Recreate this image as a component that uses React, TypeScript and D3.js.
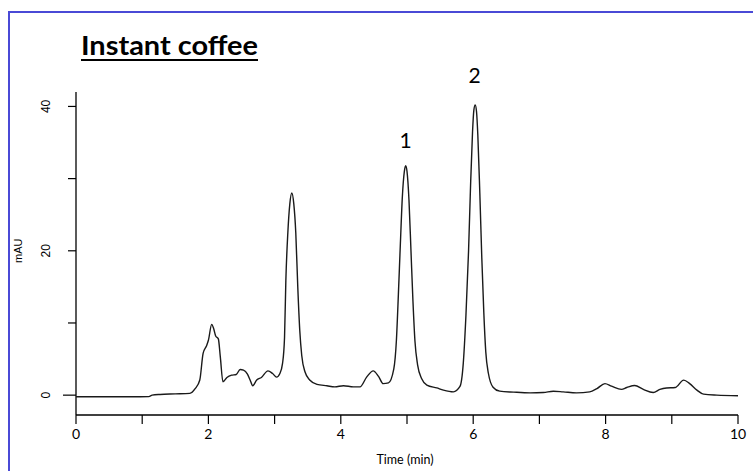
import React from "react";
import * as d3 from "d3";

const times: number[] = [
  0, 0.5, 0.97, 1.1, 1.15, 1.27, 1.5, 1.72, 1.8, 1.87, 1.92, 1.97, 2.0, 2.05, 2.08, 2.11, 2.15, 2.18, 2.22,
  2.28, 2.35, 2.42, 2.48, 2.53, 2.59, 2.63, 2.67, 2.73, 2.8, 2.9, 2.97, 3.03, 3.08, 3.12, 3.15, 3.17,
  3.2, 3.23, 3.26, 3.29, 3.32, 3.35, 3.38, 3.41, 3.46, 3.53, 3.64, 3.79, 3.91, 4.04, 4.19, 4.29, 4.39,
  4.49, 4.57, 4.64, 4.72, 4.8, 4.84, 4.87, 4.9, 4.93, 4.96, 4.98, 5.0, 5.03, 5.06, 5.09, 5.12, 5.16,
  5.22, 5.3, 5.45, 5.55, 5.7, 5.8, 5.85, 5.89, 5.93, 5.96, 5.99, 6.01, 6.03, 6.05, 6.07, 6.1, 6.13,
  6.16, 6.19, 6.23, 6.3, 6.4, 6.61, 6.86, 7.06, 7.21, 7.36, 7.56, 7.76, 7.87, 7.99, 8.09, 8.24, 8.32,
  8.44, 8.57, 8.72, 8.82, 8.92, 9.05, 9.18, 9.27, 9.38, 9.48, 9.68, 10.0,
];
const absorbance: number[] = [
  -0.22, -0.22, -0.22, -0.2, 0.0, 0.1, 0.17, 0.25, 0.9, 2.1, 5.8, 6.8, 7.6, 9.8, 9.2, 8.2, 7.8, 5.3, 1.85,
  2.45, 2.77, 2.86, 3.55, 3.46, 2.9, 2.1, 1.3, 2.1, 2.45, 3.37, 3.0, 2.5, 3.0, 4.4, 8.0, 15.9,
  22.5, 26.5, 28.0, 26.5, 22.5, 15.0, 9.0, 5.5, 3.2, 2.1, 1.5, 1.3, 1.15, 1.3, 1.15, 1.15, 2.5,
  3.37, 2.6, 1.6, 1.7, 3.6, 7.6, 14.0, 21.0, 27.5, 31.0, 31.8, 31.0, 27.0, 20.0, 13.0, 7.5, 4.2,
  2.3, 1.4, 1.0, 0.7, 0.46, 1.2, 4.4, 11.0, 20.0, 29.0, 36.5, 39.5, 40.2, 39.3, 36.0, 28.0, 19.0,
  11.5, 6.0, 3.0, 1.1, 0.55, 0.42, 0.32, 0.37, 0.55, 0.46, 0.32, 0.46, 0.92, 1.6, 1.25, 0.8, 1.06,
  1.34, 0.8, 0.37, 0.8, 1.0, 1.06, 2.08, 1.6, 0.7, 0.14, 0.0, -0.08,
];

const xTicks: number[] = [0, 1, 2, 3, 4, 5, 6, 7, 8, 9, 10];
const xTickLabels: string[] = ["0", "", "2", "", "4", "", "6", "", "8", "", "10"];
const yTicks: number[] = [0, 10, 20, 30, 40];
const yTickLabels: string[] = ["0", "", "20", "", "40"];

const peakLabels: string[] = ["1", "2"];
const peakTimes: number[] = [4.98, 6.02];
const peakLabelValues: number[] = [34.2, 43.3];

const title = "Instant coffee";
const xTitle = "Time (min)";
const yTitle = "mAU";

export default function App() {
  const W = 753;
  const H = 471;
  const x = d3.scaleLinear().domain([0, 10]).range([76, 738]);
  const y = d3.scaleLinear().domain([-2.75, 42]).range([415, 92]);
  const pts: [number, number][] = times.map((t, i) => [t, absorbance[i]]);
  const line = d3
    .line<[number, number]>()
    .x((d) => x(d[0]))
    .y((d) => y(d[1]))
    .curve(d3.curveMonotoneX);

  const calibri = "Lato, 'Open Sans', sans-serif";
  const arial = "'Liberation Sans', Arial, sans-serif";

  return (
    <svg
      width={W}
      height={H}
      style={{ position: "absolute", left: 0, top: 0, background: "#fff" }}
    >
      <rect x={0} y={0} width={W} height={H} fill="#fff" />
      {/* frame */}
      <line x1={9} y1={12} x2={W} y2={12} stroke="#4a4ad6" strokeWidth={2} />
      <line x1={9} y1={11} x2={9} y2={H} stroke="#4a4ad6" strokeWidth={2} />

      {/* title */}
      <text
        x={81}
        y={55}
        fontFamily={calibri}
        fontWeight={700}
        fontSize={26}
        fill="#000"
        textLength={177}
        lengthAdjust="spacingAndGlyphs"
      >
        {title}
      </text>
      <line x1={81} y1={60} x2={258} y2={60} stroke="#000" strokeWidth={2} />

      {/* y axis */}
      <line x1={x(0)} y1={y(42)} x2={x(0)} y2={y(-2.75)} stroke="#000" strokeWidth={1.3} />
      {yTicks.map((v, i) => (
        <g key={"yt" + i}>
          <line
            x1={x(0) - (v === 0 ? 13 : 8)}
            x2={x(0)}
            y1={y(v)}
            y2={y(v)}
            stroke="#000"
            strokeWidth={1.2}
          />
          {yTickLabels[i] && (
            <text
              transform={`translate(50,${y(v)}) rotate(-90)`}
              textAnchor="middle"
              fontFamily={arial}
              fontSize={12}
              fill="#000"
            >
              {yTickLabels[i]}
            </text>
          )}
        </g>
      ))}
      <text
        transform={`translate(22,${y(20)}) rotate(-90)`}
        textAnchor="middle"
        fontFamily={arial}
        fontSize={11}
        fill="#000"
      >
        {yTitle}
      </text>

      {/* x axis */}
      <line x1={x(0)} y1={y(-2.75)} x2={x(10)} y2={y(-2.75)} stroke="#000" strokeWidth={1.3} />
      {xTicks.map((t, i) => (
        <g key={"xt" + i}>
          <line x1={x(t)} x2={x(t)} y1={y(-2.75)} y2={y(-2.75) + 9} stroke="#000" strokeWidth={1.2} />
          {xTickLabels[i] && (
            <text
              x={x(t)}
              y={439}
              textAnchor="middle"
              fontFamily={calibri}
              fontSize={14}
              fill="#000"
            >
              {xTickLabels[i]}
            </text>
          )}
        </g>
      ))}
      <text x={405} y={464} textAnchor="middle" fontFamily={calibri} fontSize={12.5} fill="#000">
        {xTitle}
      </text>

      {/* chromatogram */}
      <path d={line(pts) || ""} fill="none" stroke="#1a1a1a" strokeWidth={1.4} strokeLinejoin="round" />

      {/* peak labels */}
      {peakLabels.map((lab, i) => (
        <text
          key={"pl" + i}
          x={x(peakTimes[i])}
          y={y(peakLabelValues[i])}
          textAnchor="middle"
          fontFamily={calibri}
          fontSize={21}
          fill="#000"
        >
          {lab}
        </text>
      ))}
    </svg>
  );
}
